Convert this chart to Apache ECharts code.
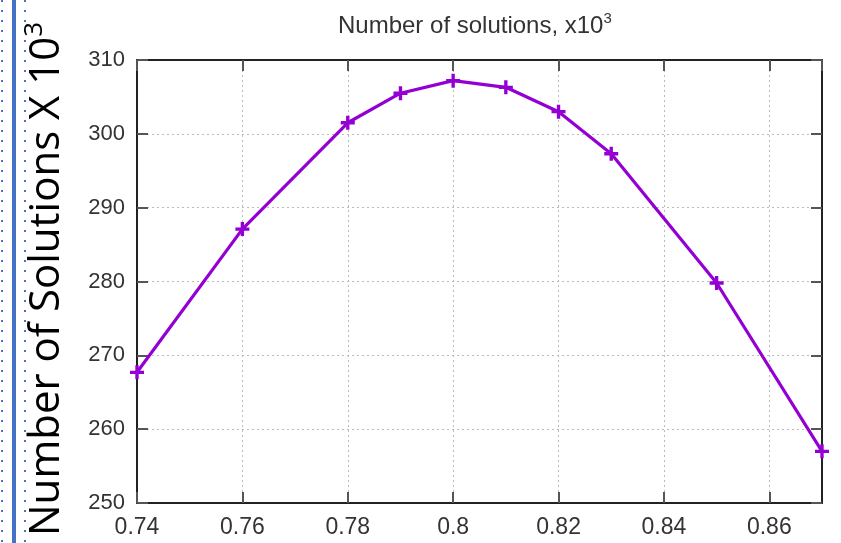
<!DOCTYPE html>
<html>
<head>
<meta charset="utf-8">
<script src="https://cdn.jsdelivr.net/npm/echarts@6/dist/echarts.min.js"></script>
<style>html,body{margin:0;padding:0;background:#fff}#c{width:841px;height:543px}</style>
</head>
<body>
<div id="c"></div>
<script>
const xValues = [0.74, 0.76, 0.78, 0.79, 0.80, 0.81, 0.82, 0.83, 0.85, 0.87];
const solutions = [267.7, 287.1, 301.5, 305.5, 307.2, 306.3, 303.0, 297.3, 279.8, 257.0];
const titleText = 'Number of solutions, x10';
const yLabelText = 'Number of Solutions X 10';

const chart = echarts.init(document.getElementById('c'), null, {renderer: 'canvas'});
const tickFont = 'Liberation Sans, Arial, sans-serif';
const split = {show: true, lineStyle: {color: '#bbb', width: 1, type: [2, 3]}};
const axLine = {show: true, lineStyle: {color: '#222', width: 2}};
const tick = {show: true, inside: true, length: 11, lineStyle: {color: '#555', width: 2}};

chart.setOption({
  animation: false,
  backgroundColor: '#fff',
  title: {
    text: '{a|' + titleText + '}{s|3}',
    left: 333, top: 6,
    textStyle: {
      fontWeight: 'normal',
      rich: {
        a: {fontFamily: tickFont, fontSize: 24, fontWeight: 'normal', color: '#333', lineHeight: 30},
        s: {fontFamily: tickFont, fontSize: 15, fontWeight: 'normal', color: '#333', verticalAlign: 'top', lineHeight: 30, padding: [0,0,12,0]}
      }
    }
  },
  grid: {left: 137, right: 19, top: 60, bottom: 40, containLabel: false},
  xAxis: [{
    type: 'value', min: 0.74, max: 0.87, interval: 0.02,
    axisLine: axLine, axisTick: tick, splitLine: split,
    axisLabel: {showMaxLabel: false, fontFamily: tickFont, fontSize: 23, color: '#333', margin: 13,
      formatter: v => String(+v.toFixed(2))}
  }, {
    type: 'value', position: 'top', min: 0.74, max: 0.87, interval: 0.02,
    axisLine: axLine, axisTick: tick, splitLine: {show: false}, axisLabel: {show: false}
  }],
  yAxis: [{
    type: 'value', min: 250, max: 310, interval: 10,
    axisLine: axLine, axisTick: tick, splitLine: split,
    axisLabel: {fontFamily: tickFont, fontSize: 22, color: '#333', margin: 12}
  }, {
    type: 'value', position: 'right', min: 250, max: 310, interval: 10,
    axisLine: axLine, axisTick: tick, splitLine: {show: false}, axisLabel: {show: false}
  }],
  series: [{
    type: 'line',
    data: xValues.map((x, i) => [x, solutions[i]]),
    lineStyle: {color: '#9400D3', width: 3.2},
    itemStyle: {color: '#9400D3'},
    symbol: 'path://M3.8,0H6.2V3.8H10V6.2H6.2V10H3.8V6.2H0V3.8H3.8Z',
    symbolSize: 14,
    showSymbol: true,
    z: 5
  }],
  graphic: [
    {type: 'line', shape: {x1: 2, y1: 0, x2: 2, y2: 543}, style: {stroke: '#4472C4', lineWidth: 2, lineDash: [2, 8]}},
    {type: 'line', shape: {x1: 14, y1: 0, x2: 14, y2: 543}, style: {stroke: '#4472C4', lineWidth: 4}},
    {type: 'line', shape: {x1: 25, y1: 0, x2: 25, y2: 543}, style: {stroke: '#4472C4', lineWidth: 2, lineDash: [2, 8]}},
    {
      type: 'text', x: 47, y: 536, rotation: Math.PI / 2,
      style: {
        text: '{a|' + yLabelText + '}{s|3}',
        align: 'left', verticalAlign: 'middle',
        rich: {
          a: {fontFamily: 'Open Sans, Noto Sans, sans-serif', fontSize: 42, fill: '#000', lineHeight: 50},
          s: {fontFamily: 'Open Sans, Noto Sans, sans-serif', fontSize: 26, fill: '#000', verticalAlign: 'top', lineHeight: 50, padding: [0,0,16,0]}
        }
      }
    }
  ]
});
</script>
</body>
</html>
